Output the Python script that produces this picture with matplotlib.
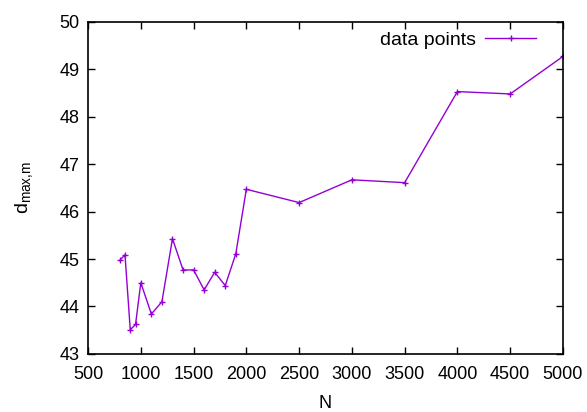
import matplotlib
matplotlib.use("Agg")
import matplotlib.pyplot as plt

plt.rcParams["font.family"] = ["Liberation Sans", "DejaVu Sans"]
plt.rcParams["mathtext.fontset"] = "custom"
plt.rcParams["mathtext.rm"] = "Liberation Sans"
plt.rcParams["mathtext.it"] = "Liberation Sans"

n_values = [800, 850, 900, 950, 1000, 1100, 1200, 1300, 1400, 1500, 1600,
            1700, 1800, 1900, 2000, 2500, 3000, 3500, 4000, 4500, 5000]
d_values = [44.97, 45.09, 43.51, 43.62, 44.50, 43.84, 44.10, 45.43, 44.77,
            44.77, 44.35, 44.72, 44.44, 45.11, 46.47, 46.19, 46.67, 46.61,
            48.53, 48.48, 49.27]
x_ticks = [500, 1000, 1500, 2000, 2500, 3000, 3500, 4000, 4500, 5000]
y_ticks = [43, 44, 45, 46, 47, 48, 49, 50]

fig = plt.figure(figsize=(5.87, 4.12), dpi=100)
ax = fig.add_axes([0.150, 0.141, 0.809, 0.806])

ax.plot(n_values, d_values, color="#9400D3", linewidth=1.0, marker="+",
        markersize=5, markeredgewidth=1.0, label="data points")

ax.set_xlim(500, 5000)
ax.set_ylim(43, 50)
ax.set_xticks(x_ticks)
ax.set_yticks(y_ticks)
ax.tick_params(axis="both", direction="in", top=True, right=True, length=5,
               width=1, labelsize=13)
ax.tick_params(axis="x", pad=9)
ax.tick_params(axis="y", pad=6)
for sp in ax.spines.values():
    sp.set_linewidth(1.2)

ax.set_xlabel("N", fontsize=13, labelpad=8)
ax.set_ylabel(r"$\mathrm{d_{max{,}m}}$", fontsize=14, labelpad=18)

ax.legend(loc="upper right", frameon=False, fontsize=14, markerfirst=False,
          handlelength=2.6, handletextpad=0.5,
          bbox_to_anchor=(0.98, 1.025))

fig.savefig("out.png", dpi=100)
